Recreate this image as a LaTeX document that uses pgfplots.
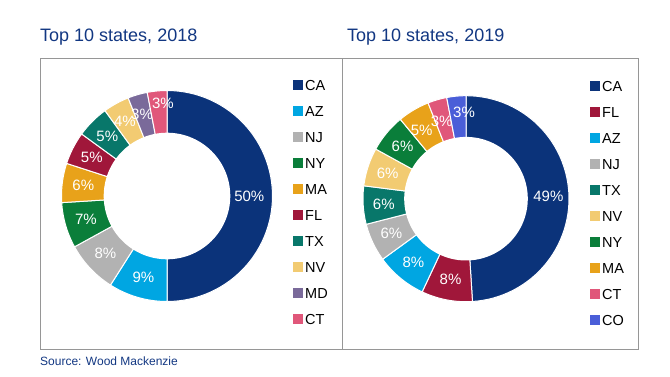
\documentclass[border=0pt]{standalone}
\usepackage{pgfplots}
\pgfplotsset{compat=1.18}
\usepackage{fontspec}
\setmainfont{Liberation Sans}
\definecolor{cCA}{RGB}{11,51,122}
\definecolor{cAZ}{RGB}{0,166,226}
\definecolor{cNJ}{RGB}{178,178,178}
\definecolor{cNY}{RGB}{10,126,58}
\definecolor{cMA}{RGB}{232,162,26}
\definecolor{cFL}{RGB}{160,23,58}
\definecolor{cTX}{RGB}{8,119,106}
\definecolor{cNV}{RGB}{242,203,114}
\definecolor{cMD}{RGB}{122,106,154}
\definecolor{cCT}{RGB}{224,87,122}
\definecolor{cCO}{RGB}{74,94,216}
\definecolor{titleblue}{RGB}{18,55,130}
\definecolor{framegray}{RGB}{150,150,150}
% donut centre \cx,\cy and radius \R (in page points)
% #1 lower angle, #2 upper angle, #3 colour, #4 label angle, #5 label radius, #6 label
\newcommand\seg[6]{%
  \addplot[fill=#3, draw=white, line width=1pt, domain=#1:#2, samples=60]
    ({\cx+\R*cos(x)},{\cy+\R*sin(x)}) -- (axis cs:\cx,\cy) -- cycle;
  \node[text=white, font=\fontsize{15}{17}\selectfont, inner sep=0pt]
    at (axis cs:{\cx+#5*\R*cos(#4)},{\cy+#5*\R*sin(#4)}) {#6\%};
}
\newcommand\hole{%
  \addplot[forget plot, fill=white, draw=none, domain=0:360, samples=120]
    ({\cx+0.6*\R*cos(x)},{\cy+0.6*\R*sin(x)}) -- cycle;
}
\pgfplotsset{page/.style={
  at={(0pt,0pt)}, anchor=south west, scale only axis,
  width=670pt, height=376pt,
  xmin=0, xmax=670, ymin=0, ymax=376, hide axis, clip=false,
  legend cell align=left,
  legend image code/.code={\fill[##1,draw=none] (0pt,-5pt) rectangle (10pt,5pt);},
  legend style={anchor=north west, draw=none, fill=none, inner sep=0pt,
    font=\fontsize{14.5}{16}\selectfont, row sep=9.5pt,
    nodes={inner xsep=2pt, inner ysep=3pt, text height=10.5pt, text depth=0pt}},
}}
\begin{document}
\begin{tikzpicture}[x=1pt,y=1pt]
\path (0,0) rectangle (670,376);
\draw[framegray, line width=1pt] (40,27) rectangle (342,318);
\draw[framegray, line width=1pt] (342,27) rectangle (638,318);
\node[anchor=base west, inner sep=0pt, font=\fontsize{18}{20}\selectfont, text=titleblue] at (40,334.3) {Top 10 states, 2018};
\node[anchor=base west, inner sep=0pt, font=\fontsize{18}{20}\selectfont, text=titleblue] at (347,334.3) {Top 10 states, 2019};
\node[anchor=base west, inner sep=0pt, font=\fontsize{12}{14}\selectfont, text=titleblue] at (40,10.3) {Source: Wood Mackenzie};

\def\cx{167}\def\cy{180}\def\R{105.5}
\begin{axis}[page, legend style={at={(0.4373,0.7959)}}]
\path (axis cs:0,0) rectangle (axis cs:670,376);
\seg{-90}{90}{cCA}{0}{0.78}{50}
\seg{-122.4}{-90}{cAZ}{-106.2}{0.8}{9}
\seg{-151.2}{-122.4}{cNJ}{-136.8}{0.8}{8}
\seg{-176.4}{-151.2}{cNY}{-163.8}{0.8}{7}
\seg{-198}{-176.4}{cMA}{-187.2}{0.8}{6}
\seg{-216}{-198}{cFL}{-207}{0.8}{5}
\seg{-234}{-216}{cTX}{-225}{0.8}{5}
\seg{-248.4}{-234}{cNV}{-240.5}{0.81}{4}
\seg{-259.2}{-248.4}{cMD}{-253}{0.81}{3}
\seg{-270}{-259.2}{cCT}{-267.5}{0.875}{3}
\hole
\legend{CA,AZ,NJ,NY,MA,FL,TX,NV,MD,CT}
\end{axis}

\def\cx{466}\def\cy{177.3}\def\R{103}
\begin{axis}[page, legend style={at={(0.8806,0.7932)}}]
\path (axis cs:0,0) rectangle (axis cs:670,376);
\seg{-86.4}{90}{cCA}{1.8}{0.8}{49}
\seg{-115.2}{-86.4}{cFL}{-100.8}{0.8}{8}
\seg{-144}{-115.2}{cAZ}{-129.6}{0.8}{8}
\seg{-165.6}{-144}{cNJ}{-154.8}{0.8}{6}
\seg{-187.2}{-165.6}{cTX}{-176.4}{0.8}{6}
\seg{-208.8}{-187.2}{cNV}{-198}{0.8}{6}
\seg{-230.4}{-208.8}{cNY}{-219.6}{0.8}{6}
\seg{-248.4}{-230.4}{cMA}{-237}{0.79}{5}
\seg{-259.2}{-248.4}{cCT}{-252.6}{0.79}{3}
\seg{-270}{-259.2}{cCO}{-268.7}{0.84}{3}
\hole
\legend{CA,FL,AZ,NJ,TX,NV,NY,MA,CT,CO}
\end{axis}
\end{tikzpicture}
\end{document}
